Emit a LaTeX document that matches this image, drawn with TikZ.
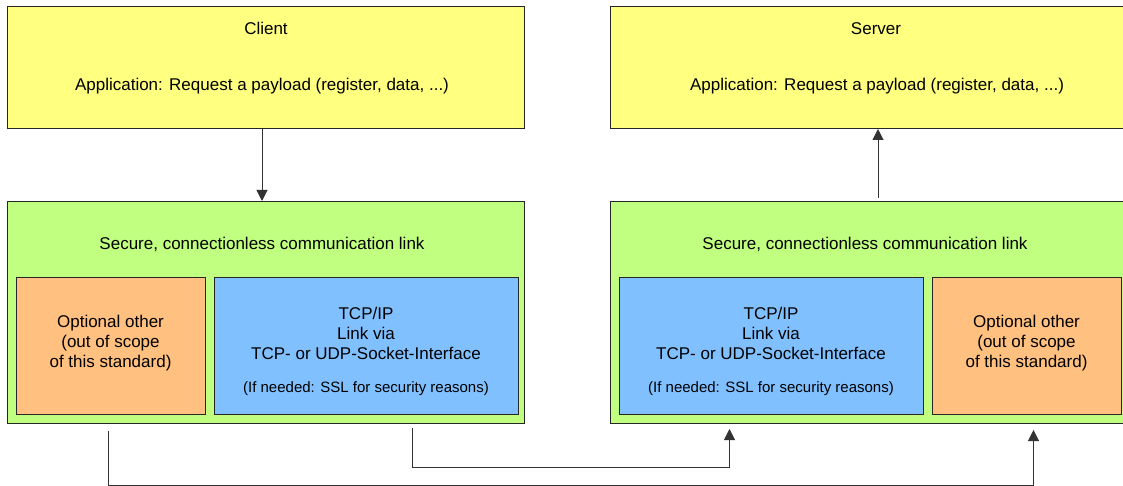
\documentclass[tikz,border=0pt]{standalone}
\usepackage{fontspec}
\setmainfont{Liberation Sans}
\usetikzlibrary{arrows.meta,calc}

\definecolor{appyellow}{HTML}{FFFF80}
\definecolor{linkgreen}{HTML}{C0FF80}
\definecolor{optorange}{HTML}{FFC080}
\definecolor{tcpblue}{HTML}{80C0FF}

\tikzset{
  box/.style={draw=black!85, line width=1pt, rectangle, anchor=north west, inner sep=0pt},
  appbox/.style={box, fill=appyellow},
  linkbox/.style={box, fill=linkgreen},
  optbox/.style={box, fill=optorange},
  tcpbox/.style={box, fill=tcpblue},
  txt/.style={font=\fontsize{17}{20}\selectfont, align=center, inner sep=0pt},
  smalltxt/.style={font=\fontsize{15}{18}\selectfont, align=center, inner sep=0pt},
  wire/.style={draw=black!80, line width=1pt},
  arr/.style={wire, -{Triangle[length=11pt,width=11pt]}}
}

\begin{document}
\begin{tikzpicture}[x=1pt,y=-1pt]
\clip (0,0) rectangle (1123,486);

% client side
\node[appbox, minimum width=517pt, minimum height=122pt] (cli) at (7,6) {};
\node[txt] (clititle) at (266,28) {Client};
\node[txt] (cliapp) at (262,86) {Application: Request a payload (register, data, ...)};

\node[linkbox, minimum width=517pt, minimum height=222pt] (clink) at (7,201) {};
\node[txt] (clinktxt) at (262,244) {Secure, connectionless communication link};
\node[optbox, minimum width=189pt, minimum height=137pt] (corg) at (16,277) {};
\node[txt] (corgtxt) at (110.5,343.5) {Optional other\\(out of scope\\of this standard)};
\node[tcpbox, minimum width=304pt, minimum height=137pt] (ctcp) at (214,277) {};
\node[txt] (ctcptxt) at (366,333.5) {TCP/IP\\Link via\\TCP- or UDP-Socket-Interface};
\node[smalltxt] (cssl) at (366,389) {(If needed: SSL for security reasons)};

% server side
\node[appbox, minimum width=532pt, minimum height=122pt] (srv) at (610,6) {};
\node[txt] (srvtitle) at (876,29) {Server};
\node[txt] (srvapp) at (877,86) {Application: Request a payload (register, data, ...)};

\node[linkbox, minimum width=517pt, minimum height=222pt] (slink) at (610,201) {};
\node[txt] (slinktxt) at (865,244) {Secure, connectionless communication link};
\node[tcpbox, minimum width=304pt, minimum height=137pt] (stcp) at (619,277) {};
\node[txt] (stcptxt) at (771,333.5) {TCP/IP\\Link via\\TCP- or UDP-Socket-Interface};
\node[smalltxt] (sssl) at (771,389) {(If needed: SSL for security reasons)};
\node[optbox, minimum width=189pt, minimum height=137pt] (sorg) at (932,277) {};
\node[txt] (sorgtxt) at (1026.5,343.5) {Optional other\\(out of scope\\of this standard)};

% application to link
\draw[arr] (cli.south -| cliapp) -- (clink.north -| cliapp);
\draw[arr] ($(slink.north -| srvapp)+(1,-3)$) -- ($(srv.south -| srvapp)+(1,0)$);

% link to link
\draw[arr] ($(corg.south)+(-2.5,16)$) -- ++(0,54) -| ($(sorg.south)+(6.5,15)$);
\draw[arr] ($(ctcp.south)+(46,13)$) -- ++(0,39) -| ($(stcp.south)+(-42,14)$);
\end{tikzpicture}
\end{document}
